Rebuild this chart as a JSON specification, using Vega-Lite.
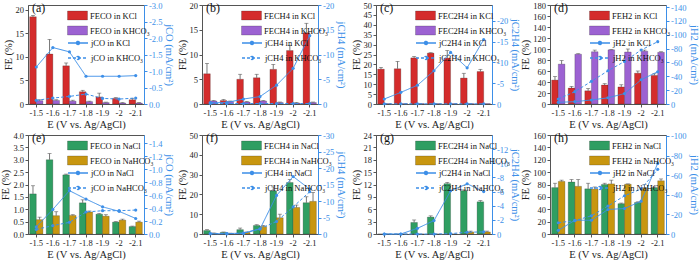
{
"$schema":"https://vega.github.io/schema/vega-lite/v6.json",
"padding":{"left":0,"top":0,"right":0,"bottom":0},
"background":"white",
"config":{
 "font":"Liberation Serif",
 "view":{"stroke":"#555","strokeWidth":1},
 "axis":{"labelFont":"Liberation Serif","titleFont":"Liberation Serif","labelFontSize":8.5,"titleFontSize":10.5,"titleFontWeight":"normal","domainColor":"#555","tickColor":"#555","labelColor":"#222","titleColor":"#222","grid":false,"tickSize":3,"labelPadding":1.5,"titlePadding":2,"labelOverlap":false},
 "legend":{"labelFont":"Liberation Serif","labelFontSize":8.5,"symbolSize":100,"labelOffset":7,"rowPadding":4,"padding":0,"labelLimit":200,"labelColor":"#111"},
 "title":{"anchor":"start","frame":"group","offset":0,"dy":18,"dx":4,"fontSize":12,"fontWeight":"normal","font":"Liberation Serif","color":"#111"},
 "bar":{"stroke":"#222","strokeWidth":0.4,"strokeOpacity":0.6}
},
"spacing":0,
"resolve":{"scale":{"color":"independent","strokeDash":"independent","xOffset":"independent"},"legend":{"color":"independent","strokeDash":"independent"}},
"vconcat":[
{"bounds":"flush","spacing":58,
 "resolve":{"scale":{"color":"independent","strokeDash":"independent","xOffset":"independent"},"legend":{"color":"independent","strokeDash":"independent"}},
 "hconcat":[
 {"width":116,"height":99,"title":{"text":"(a)"},
  "data":{"values":[
   {"E":"-1.5","s":"FECO in KCl","l":"jCO in KCl","FE":18.5,"hi":18.8,"j":-1.12},
   {"E":"-1.6","s":"FECO in KCl","l":"jCO in KCl","FE":10.6,"hi":13.7,"j":-1.71},
   {"E":"-1.7","s":"FECO in KCl","l":"jCO in KCl","FE":8.1,"hi":8.7,"j":-1.58},
   {"E":"-1.8","s":"FECO in KCl","l":"jCO in KCl","FE":2.6,"hi":2.9,"j":-0.84},
   {"E":"-1.9","s":"FECO in KCl","l":"jCO in KCl","FE":1.5,"hi":2.3,"j":-0.84},
   {"E":"-2","s":"FECO in KCl","l":"jCO in KCl","FE":1.2,"hi":1.35,"j":-0.84},
   {"E":"-2.1","s":"FECO in KCl","l":"jCO in KCl","FE":0.9,"hi":1.2,"j":-0.86},
   {"E":"-1.5","s":"FECO in KHCO₃","l":"jCO in KHCO₃","FE":0.7,"hi":0.9,"j":-0.11},
   {"E":"-1.6","s":"FECO in KHCO₃","l":"jCO in KHCO₃","FE":0.75,"hi":0.9,"j":-0.18},
   {"E":"-1.7","s":"FECO in KHCO₃","l":"jCO in KHCO₃","FE":0.6,"hi":0.8,"j":-0.23},
   {"E":"-1.8","s":"FECO in KHCO₃","l":"jCO in KHCO₃","FE":0.5,"hi":0.6,"j":-0.30},
   {"E":"-1.9","s":"FECO in KHCO₃","l":"jCO in KHCO₃","FE":0.3,"hi":0.4,"j":-0.17},
   {"E":"-2","s":"FECO in KHCO₃","l":"jCO in KHCO₃","FE":0.2,"hi":0.3,"j":-0.15},
   {"E":"-2.1","s":"FECO in KHCO₃","l":"jCO in KHCO₃","FE":0.2,"hi":0.3,"j":-0.18}]},
  "layer":[
   {"layer":[
    {"mark":{"type":"bar"},"encoding":{
      "x":{"field":"E","type":"nominal","sort":["-1.5","-1.6","-1.7","-1.8","-1.9","-2","-2.1"],"scale":{"type":"band","paddingInner":0.2,"paddingOuter":0.1},"axis":{"title":"E (V vs. Ag/AgCl)","labelAngle":0}},
      "xOffset":{"field":"s","type":"nominal","sort":["FECO in KCl","FECO in KHCO₃"],"scale":{"type":"band"}},
      "y":{"field":"FE","type":"quantitative","title":"FE (%)","scale":{"domain":[0,21],"nice":false},"axis":{"values":[0,5,10,15,20],"format":"d","labelOverlap":false}},
      "color":{"field":"s","type":"nominal","scale":{"domain":["FECO in KCl","FECO in KHCO₃"],"range":["#d42c2c","#9c62d2"]},"legend":{"title":null,"orient":"none","legendX":44,"legendY":5,"symbolType":"M-2,-0.9H2V0.9H-2Z"}}}},
    {"transform":[{"filter":"datum.hi > datum.FE"}],"mark":{"type":"rule","color":"#555","strokeWidth":0.8},"encoding":{
      "x":{"field":"E","type":"nominal","sort":["-1.5","-1.6","-1.7","-1.8","-1.9","-2","-2.1"],"scale":{"type":"band"}},
      "xOffset":{"field":"s","type":"nominal","sort":["FECO in KCl","FECO in KHCO₃"],"scale":{"type":"band"}},
      "y":{"field":"FE","type":"quantitative","title":"FE (%)","axis":{"values":[0,5,10,15,20],"format":"d","labelOverlap":false}},"y2":{"field":"hi"}}},
    {"transform":[{"filter":"datum.hi > datum.FE"}],"mark":{"type":"tick","color":"#555","thickness":0.8,"size":4},"encoding":{
      "x":{"field":"E","type":"nominal","sort":["-1.5","-1.6","-1.7","-1.8","-1.9","-2","-2.1"],"scale":{"type":"band"}},
      "xOffset":{"field":"s","type":"nominal","sort":["FECO in KCl","FECO in KHCO₃"],"scale":{"type":"band"}},
      "y":{"field":"hi","type":"quantitative","title":"FE (%)","axis":{"values":[0,5,10,15,20],"format":"d","labelOverlap":false}}}}]},
   {"mark":{"type":"line","color":"#3d8fe8","strokeWidth":1,"point":{"filled":true,"size":10,"color":"#3d8fe8"}},"encoding":{
      "x":{"field":"E","type":"nominal","sort":["-1.5","-1.6","-1.7","-1.8","-1.9","-2","-2.1"],"scale":{"type":"band"}},
      "y":{"field":"j","type":"quantitative","scale":{"domain":[-3,0],"reverse":true,"nice":false},"axis":{"orient":"right","title":"jCO (mA/cm²)","values":[0,-0.5,-1,-1.5,-2,-2.5,-3],"labelOverlap":false,"labelExpr":"datum.value == 0 ? '0.0' : '-' + format(-datum.value, '.1f')","domainColor":"#3d8fe8","tickColor":"#3d8fe8","labelColor":"#3d8fe8","titleColor":"#3d8fe8"}},
      "strokeDash":{"field":"l","type":"nominal","scale":{"domain":["jCO in KCl","jCO in KHCO₃"],"range":[[1,0],[3,2]]},"legend":{"title":null,"orient":"none","legendX":44,"legendY":32,"symbolType":"M-2,0H2M0.3,0A0.3,0.3 0 1,1 -0.3,0A0.3,0.3 0 1,1 0.3,0","encode":{"symbols":{"update":{"stroke":{"value":"#3d8fe8"},"fill":{"value":"#3d8fe8"},"strokeWidth":{"value":1},"opacity":{"value":1}}}}}}}}],
  "resolve":{"scale":{"y":"independent"}}},

 {"width":116,"height":99,"title":{"text":"(b)"},
  "data":{"values":[
   {"E":"-1.5","s":"FECH4 in KCl","l":"jCH4 in KCl","FE":6.1,"hi":8.2,"j":-0.3},
   {"E":"-1.6","s":"FECH4 in KCl","l":"jCH4 in KCl","FE":0.7,"hi":0.9,"j":-0.3},
   {"E":"-1.7","s":"FECH4 in KCl","l":"jCH4 in KCl","FE":5.0,"hi":6.0,"j":-1.0},
   {"E":"-1.8","s":"FECH4 in KCl","l":"jCH4 in KCl","FE":5.3,"hi":6.0,"j":-1.5},
   {"E":"-1.9","s":"FECH4 in KCl","l":"jCH4 in KCl","FE":7.0,"hi":8.0,"j":-3.8},
   {"E":"-2","s":"FECH4 in KCl","l":"jCH4 in KCl","FE":10.8,"hi":11.8,"j":-7.2},
   {"E":"-2.1","s":"FECH4 in KCl","l":"jCH4 in KCl","FE":14.4,"hi":16.3,"j":-13.8},
   {"E":"-1.5","s":"FECH4 in KHCO₃","l":"jCH4 in KHCO₃","FE":0.6,"hi":0.7,"j":-0.1},
   {"E":"-1.6","s":"FECH4 in KHCO₃","l":"jCH4 in KHCO₃","FE":0.5,"hi":0.6,"j":-0.1},
   {"E":"-1.7","s":"FECH4 in KHCO₃","l":"jCH4 in KHCO₃","FE":0.4,"hi":0.5,"j":-0.1},
   {"E":"-1.8","s":"FECH4 in KHCO₃","l":"jCH4 in KHCO₃","FE":0.6,"hi":0.7,"j":-0.1},
   {"E":"-1.9","s":"FECH4 in KHCO₃","l":"jCH4 in KHCO₃","FE":0.3,"hi":0.4,"j":-0.1},
   {"E":"-2","s":"FECH4 in KHCO₃","l":"jCH4 in KHCO₃","FE":0.2,"hi":0.3,"j":-0.1},
   {"E":"-2.1","s":"FECH4 in KHCO₃","l":"jCH4 in KHCO₃","FE":0.3,"hi":0.4,"j":-0.1}]},
  "layer":[
   {"layer":[
    {"mark":{"type":"bar"},"encoding":{
      "x":{"field":"E","type":"nominal","sort":["-1.5","-1.6","-1.7","-1.8","-1.9","-2","-2.1"],"scale":{"type":"band","paddingInner":0.2,"paddingOuter":0.1},"axis":{"title":"E (V vs. Ag/AgCl)","labelAngle":0}},
      "xOffset":{"field":"s","type":"nominal","sort":["FECH4 in KCl","FECH4 in KHCO₃"],"scale":{"type":"band"}},
      "y":{"field":"FE","type":"quantitative","title":"FE (%)","scale":{"domain":[0,20],"nice":false},"axis":{"values":[0,5,10,15,20],"format":"d","labelOverlap":false}},
      "color":{"field":"s","type":"nominal","scale":{"domain":["FECH4 in KCl","FECH4 in KHCO₃"],"range":["#d42c2c","#9c62d2"]},"legend":{"title":null,"orient":"none","legendX":44,"legendY":5,"symbolType":"M-2,-0.9H2V0.9H-2Z"}}}},
    {"transform":[{"filter":"datum.hi > datum.FE"}],"mark":{"type":"rule","color":"#555","strokeWidth":0.8},"encoding":{
      "x":{"field":"E","type":"nominal","sort":["-1.5","-1.6","-1.7","-1.8","-1.9","-2","-2.1"],"scale":{"type":"band"}},
      "xOffset":{"field":"s","type":"nominal","sort":["FECH4 in KCl","FECH4 in KHCO₃"],"scale":{"type":"band"}},
      "y":{"field":"FE","type":"quantitative","title":"FE (%)","axis":{"values":[0,5,10,15,20],"format":"d","labelOverlap":false}},"y2":{"field":"hi"}}},
    {"transform":[{"filter":"datum.hi > datum.FE"}],"mark":{"type":"tick","color":"#555","thickness":0.8,"size":4},"encoding":{
      "x":{"field":"E","type":"nominal","sort":["-1.5","-1.6","-1.7","-1.8","-1.9","-2","-2.1"],"scale":{"type":"band"}},
      "xOffset":{"field":"s","type":"nominal","sort":["FECH4 in KCl","FECH4 in KHCO₃"],"scale":{"type":"band"}},
      "y":{"field":"hi","type":"quantitative","title":"FE (%)","axis":{"values":[0,5,10,15,20],"format":"d","labelOverlap":false}}}}]},
   {"mark":{"type":"line","color":"#3d8fe8","strokeWidth":1,"point":{"filled":true,"size":10,"color":"#3d8fe8"}},"encoding":{
      "x":{"field":"E","type":"nominal","sort":["-1.5","-1.6","-1.7","-1.8","-1.9","-2","-2.1"],"scale":{"type":"band"}},
      "y":{"field":"j","type":"quantitative","scale":{"domain":[-20,0],"reverse":true,"nice":false},"axis":{"orient":"right","title":"jCH4 (mA/cm²)","values":[0,-5,-10,-15,-20],"labelOverlap":false,"labelExpr":"datum.value == 0 ? '0' : '-' + format(-datum.value, 'd')","domainColor":"#3d8fe8","tickColor":"#3d8fe8","labelColor":"#3d8fe8","titleColor":"#3d8fe8"}},
      "strokeDash":{"field":"l","type":"nominal","scale":{"domain":["jCH4 in KCl","jCH4 in KHCO₃"],"range":[[1,0],[3,2]]},"legend":{"title":null,"orient":"none","legendX":44,"legendY":32,"symbolType":"M-2,0H2M0.3,0A0.3,0.3 0 1,1 -0.3,0A0.3,0.3 0 1,1 0.3,0","encode":{"symbols":{"update":{"stroke":{"value":"#3d8fe8"},"fill":{"value":"#3d8fe8"},"strokeWidth":{"value":1},"opacity":{"value":1}}}}}}}}],
  "resolve":{"scale":{"y":"independent"}}},

 {"width":116,"height":99,"title":{"text":"(c)"},
  "data":{"values":[
   {"E":"-1.5","s":"FEC2H4 in KCl","l":"jC2H4 in KCl","FE":17.6,"hi":18.5,"j":-1.2},
   {"E":"-1.6","s":"FEC2H4 in KCl","l":"jC2H4 in KCl","FE":17.8,"hi":21.5,"j":-2.8},
   {"E":"-1.7","s":"FEC2H4 in KCl","l":"jC2H4 in KCl","FE":23.3,"hi":24.0,"j":-4.5},
   {"E":"-1.8","s":"FEC2H4 in KCl","l":"jC2H4 in KCl","FE":25.7,"hi":25.9,"j":-8.0},
   {"E":"-1.9","s":"FEC2H4 in KCl","l":"jC2H4 in KCl","FE":23.2,"hi":27.0,"j":-12.4},
   {"E":"-2","s":"FEC2H4 in KCl","l":"jC2H4 in KCl","FE":13.1,"hi":15.5,"j":-8.7},
   {"E":"-2.1","s":"FEC2H4 in KCl","l":"jC2H4 in KCl","FE":16.4,"hi":17.5,"j":-15.5},
   {"E":"-1.5","s":"FEC2H4 in KHCO₃","l":"jC2H4 in KHCO₃","FE":0.2,"hi":0.2,"j":-0.05},
   {"E":"-1.6","s":"FEC2H4 in KHCO₃","l":"jC2H4 in KHCO₃","FE":0.2,"hi":0.2,"j":-0.05},
   {"E":"-1.7","s":"FEC2H4 in KHCO₃","l":"jC2H4 in KHCO₃","FE":0.2,"hi":0.2,"j":-0.05},
   {"E":"-1.8","s":"FEC2H4 in KHCO₃","l":"jC2H4 in KHCO₃","FE":0.2,"hi":0.2,"j":-0.05},
   {"E":"-1.9","s":"FEC2H4 in KHCO₃","l":"jC2H4 in KHCO₃","FE":0.2,"hi":0.2,"j":-0.05},
   {"E":"-2","s":"FEC2H4 in KHCO₃","l":"jC2H4 in KHCO₃","FE":0.2,"hi":0.2,"j":-0.05},
   {"E":"-2.1","s":"FEC2H4 in KHCO₃","l":"jC2H4 in KHCO₃","FE":0.2,"hi":0.2,"j":-0.05}]},
  "layer":[
   {"layer":[
    {"mark":{"type":"bar"},"encoding":{
      "x":{"field":"E","type":"nominal","sort":["-1.5","-1.6","-1.7","-1.8","-1.9","-2","-2.1"],"scale":{"type":"band","paddingInner":0.2,"paddingOuter":0.1},"axis":{"title":"E (V vs. Ag/AgCl)","labelAngle":0}},
      "xOffset":{"field":"s","type":"nominal","sort":["FEC2H4 in KCl","FEC2H4 in KHCO₃"],"scale":{"type":"band"}},
      "y":{"field":"FE","type":"quantitative","title":"FE (%)","scale":{"domain":[0,50],"nice":false},"axis":{"values":[0,5,10,15,20,25,30,35,40,45,50],"format":"d","labelOverlap":false}},
      "color":{"field":"s","type":"nominal","scale":{"domain":["FEC2H4 in KCl","FEC2H4 in KHCO₃"],"range":["#d42c2c","#9c62d2"]},"legend":{"title":null,"orient":"none","legendX":44,"legendY":5,"symbolType":"M-2,-0.9H2V0.9H-2Z"}}}},
    {"transform":[{"filter":"datum.hi > datum.FE"}],"mark":{"type":"rule","color":"#555","strokeWidth":0.8},"encoding":{
      "x":{"field":"E","type":"nominal","sort":["-1.5","-1.6","-1.7","-1.8","-1.9","-2","-2.1"],"scale":{"type":"band"}},
      "xOffset":{"field":"s","type":"nominal","sort":["FEC2H4 in KCl","FEC2H4 in KHCO₃"],"scale":{"type":"band"}},
      "y":{"field":"FE","type":"quantitative","title":"FE (%)","axis":{"values":[0,5,10,15,20,25,30,35,40,45,50],"format":"d","labelOverlap":false}},"y2":{"field":"hi"}}},
    {"transform":[{"filter":"datum.hi > datum.FE"}],"mark":{"type":"tick","color":"#555","thickness":0.8,"size":4},"encoding":{
      "x":{"field":"E","type":"nominal","sort":["-1.5","-1.6","-1.7","-1.8","-1.9","-2","-2.1"],"scale":{"type":"band"}},
      "xOffset":{"field":"s","type":"nominal","sort":["FEC2H4 in KCl","FEC2H4 in KHCO₃"],"scale":{"type":"band"}},
      "y":{"field":"hi","type":"quantitative","title":"FE (%)","axis":{"values":[0,5,10,15,20,25,30,35,40,45,50],"format":"d","labelOverlap":false}}}}]},
   {"mark":{"type":"line","color":"#3d8fe8","strokeWidth":1,"point":{"filled":true,"size":10,"color":"#3d8fe8"}},"encoding":{
      "x":{"field":"E","type":"nominal","sort":["-1.5","-1.6","-1.7","-1.8","-1.9","-2","-2.1"],"scale":{"type":"band"}},
      "y":{"field":"j","type":"quantitative","scale":{"domain":[-23.8,0],"reverse":true,"nice":false},"axis":{"orient":"right","title":"jC2H4 (mA/cm²)","values":[0,-5,-10,-15,-20],"labelOverlap":false,"labelExpr":"datum.value == 0 ? '0' : '-' + format(-datum.value, 'd')","domainColor":"#3d8fe8","tickColor":"#3d8fe8","labelColor":"#3d8fe8","titleColor":"#3d8fe8"}},
      "strokeDash":{"field":"l","type":"nominal","scale":{"domain":["jC2H4 in KCl","jC2H4 in KHCO₃"],"range":[[1,0],[3,2]]},"legend":{"title":null,"orient":"none","legendX":44,"legendY":32,"symbolType":"M-2,0H2M0.3,0A0.3,0.3 0 1,1 -0.3,0A0.3,0.3 0 1,1 0.3,0","encode":{"symbols":{"update":{"stroke":{"value":"#3d8fe8"},"fill":{"value":"#3d8fe8"},"strokeWidth":{"value":1},"opacity":{"value":1}}}}}}}}],
  "resolve":{"scale":{"y":"independent"}}},

 {"width":116,"height":99,"title":{"text":"(d)"},
  "data":{"values":[
   {"E":"-1.5","s":"FEH2 in KCl","l":"jH2 in KCl","FE":43.5,"hi":50,"j":-2.4},
   {"E":"-1.6","s":"FEH2 in KCl","l":"jH2 in KCl","FE":29,"hi":32,"j":-3.4},
   {"E":"-1.7","s":"FEH2 in KCl","l":"jH2 in KCl","FE":24,"hi":28,"j":-5.8},
   {"E":"-1.8","s":"FEH2 in KCl","l":"jH2 in KCl","FE":34.5,"hi":37,"j":-9},
   {"E":"-1.9","s":"FEH2 in KCl","l":"jH2 in KCl","FE":31,"hi":35,"j":-15},
   {"E":"-2","s":"FEH2 in KCl","l":"jH2 in KCl","FE":56,"hi":60,"j":-35},
   {"E":"-2.1","s":"FEH2 in KCl","l":"jH2 in KCl","FE":52,"hi":55,"j":-46.6},
   {"E":"-1.5","s":"FEH2 in KHCO₃","l":"jH2 in KHCO₃","FE":72.5,"hi":79,"j":-7.2},
   {"E":"-1.6","s":"FEH2 in KHCO₃","l":"jH2 in KHCO₃","FE":90.5,"hi":91.5,"j":-17.8},
   {"E":"-1.7","s":"FEH2 in KHCO₃","l":"jH2 in KHCO₃","FE":95,"hi":98,"j":-32.7},
   {"E":"-1.8","s":"FEH2 in KHCO₃","l":"jH2 in KHCO₃","FE":98.5,"hi":99,"j":-48},
   {"E":"-1.9","s":"FEH2 in KHCO₃","l":"jH2 in KHCO₃","FE":94.5,"hi":100,"j":-61.5},
   {"E":"-2","s":"FEH2 in KHCO₃","l":"jH2 in KHCO₃","FE":96,"hi":98,"j":-78},
   {"E":"-2.1","s":"FEH2 in KHCO₃","l":"jH2 in KHCO₃","FE":94,"hi":95,"j":-90}]},
  "layer":[
   {"layer":[
    {"mark":{"type":"bar"},"encoding":{
      "x":{"field":"E","type":"nominal","sort":["-1.5","-1.6","-1.7","-1.8","-1.9","-2","-2.1"],"scale":{"type":"band","paddingInner":0.2,"paddingOuter":0.1},"axis":{"title":"E (V vs. Ag/AgCl)","labelAngle":0}},
      "xOffset":{"field":"s","type":"nominal","sort":["FEH2 in KCl","FEH2 in KHCO₃"],"scale":{"type":"band"}},
      "y":{"field":"FE","type":"quantitative","title":"FE (%)","scale":{"domain":[0,180],"nice":false},"axis":{"values":[0,20,40,60,80,100,120,140,160,180],"format":"d","labelOverlap":false}},
      "color":{"field":"s","type":"nominal","scale":{"domain":["FEH2 in KCl","FEH2 in KHCO₃"],"range":["#d42c2c","#9c62d2"]},"legend":{"title":null,"orient":"none","legendX":44,"legendY":5,"symbolType":"M-2,-0.9H2V0.9H-2Z"}}}},
    {"transform":[{"filter":"datum.hi > datum.FE"}],"mark":{"type":"rule","color":"#555","strokeWidth":0.8},"encoding":{
      "x":{"field":"E","type":"nominal","sort":["-1.5","-1.6","-1.7","-1.8","-1.9","-2","-2.1"],"scale":{"type":"band"}},
      "xOffset":{"field":"s","type":"nominal","sort":["FEH2 in KCl","FEH2 in KHCO₃"],"scale":{"type":"band"}},
      "y":{"field":"FE","type":"quantitative","title":"FE (%)","axis":{"values":[0,20,40,60,80,100,120,140,160,180],"format":"d","labelOverlap":false}},"y2":{"field":"hi"}}},
    {"transform":[{"filter":"datum.hi > datum.FE"}],"mark":{"type":"tick","color":"#555","thickness":0.8,"size":4},"encoding":{
      "x":{"field":"E","type":"nominal","sort":["-1.5","-1.6","-1.7","-1.8","-1.9","-2","-2.1"],"scale":{"type":"band"}},
      "xOffset":{"field":"s","type":"nominal","sort":["FEH2 in KCl","FEH2 in KHCO₃"],"scale":{"type":"band"}},
      "y":{"field":"hi","type":"quantitative","title":"FE (%)","axis":{"values":[0,20,40,60,80,100,120,140,160,180],"format":"d","labelOverlap":false}}}}]},
   {"mark":{"type":"line","color":"#3d8fe8","strokeWidth":1,"point":{"filled":true,"size":10,"color":"#3d8fe8"}},"encoding":{
      "x":{"field":"E","type":"nominal","sort":["-1.5","-1.6","-1.7","-1.8","-1.9","-2","-2.1"],"scale":{"type":"band"}},
      "y":{"field":"j","type":"quantitative","scale":{"domain":[-143,0],"reverse":true,"nice":false},"axis":{"orient":"right","title":"jH2 (mA/cm²)","values":[0,-20,-40,-60,-80,-100,-120,-140],"labelOverlap":false,"labelExpr":"datum.value == 0 ? '0' : '-' + format(-datum.value, 'd')","domainColor":"#3d8fe8","tickColor":"#3d8fe8","labelColor":"#3d8fe8","titleColor":"#3d8fe8"}},
      "strokeDash":{"field":"l","type":"nominal","scale":{"domain":["jH2 in KCl","jH2 in KHCO₃"],"range":[[1,0],[3,2]]},"legend":{"title":null,"orient":"none","legendX":44,"legendY":32,"symbolType":"M-2,0H2M0.3,0A0.3,0.3 0 1,1 -0.3,0A0.3,0.3 0 1,1 0.3,0","encode":{"symbols":{"update":{"stroke":{"value":"#3d8fe8"},"fill":{"value":"#3d8fe8"},"strokeWidth":{"value":1},"opacity":{"value":1}}}}}}}}],
  "resolve":{"scale":{"y":"independent"}}}
 ]},
{"bounds":"flush","spacing":58,
 "resolve":{"scale":{"color":"independent","strokeDash":"independent","xOffset":"independent"},"legend":{"color":"independent","strokeDash":"independent"}},
 "hconcat":[
 {"width":116,"height":99,"title":{"text":"(e)"},
  "data":{"values":[
   {"E":"-1.5","s":"FECO in NaCl","l":"jCO in NaCl","FE":1.62,"hi":1.95,"j":-0.11},
   {"E":"-1.6","s":"FECO in NaCl","l":"jCO in NaCl","FE":3.0,"hi":3.25,"j":-0.38},
   {"E":"-1.7","s":"FECO in NaCl","l":"jCO in NaCl","FE":2.39,"hi":2.42,"j":-0.67},
   {"E":"-1.8","s":"FECO in NaCl","l":"jCO in NaCl","FE":1.26,"hi":1.38,"j":-0.54},
   {"E":"-1.9","s":"FECO in NaCl","l":"jCO in NaCl","FE":0.8,"hi":0.83,"j":-0.42},
   {"E":"-2","s":"FECO in NaCl","l":"jCO in NaCl","FE":0.48,"hi":0.5,"j":-0.35},
   {"E":"-2.1","s":"FECO in NaCl","l":"jCO in NaCl","FE":0.3,"hi":0.32,"j":-0.24},
   {"E":"-1.5","s":"FECO in NaHCO₃","l":"jCO in NaHCO₃","FE":0.58,"hi":0.68,"j":-0.07},
   {"E":"-1.6","s":"FECO in NaHCO₃","l":"jCO in NaHCO₃","FE":0.74,"hi":0.9,"j":-0.13},
   {"E":"-1.7","s":"FECO in NaHCO₃","l":"jCO in NaHCO₃","FE":0.75,"hi":0.78,"j":-0.18},
   {"E":"-1.8","s":"FECO in NaHCO₃","l":"jCO in NaHCO₃","FE":0.89,"hi":0.93,"j":-0.34},
   {"E":"-1.9","s":"FECO in NaHCO₃","l":"jCO in NaHCO₃","FE":0.72,"hi":0.78,"j":-0.36},
   {"E":"-2","s":"FECO in NaHCO₃","l":"jCO in NaHCO₃","FE":0.56,"hi":0.6,"j":-0.36},
   {"E":"-2.1","s":"FECO in NaHCO₃","l":"jCO in NaHCO₃","FE":0.48,"hi":0.52,"j":-0.37}]},
  "layer":[
   {"layer":[
    {"mark":{"type":"bar"},"encoding":{
      "x":{"field":"E","type":"nominal","sort":["-1.5","-1.6","-1.7","-1.8","-1.9","-2","-2.1"],"scale":{"type":"band","paddingInner":0.2,"paddingOuter":0.1},"axis":{"title":"E (V vs. Ag/AgCl)","labelAngle":0}},
      "xOffset":{"field":"s","type":"nominal","sort":["FECO in NaCl","FECO in NaHCO₃"],"scale":{"type":"band"}},
      "y":{"field":"FE","type":"quantitative","title":"FE (%)","scale":{"domain":[0,4],"nice":false},"axis":{"values":[0,0.5,1,1.5,2,2.5,3,3.5,4],"format":".1f","labelOverlap":false}},
      "color":{"field":"s","type":"nominal","scale":{"domain":["FECO in NaCl","FECO in NaHCO₃"],"range":["#2f9e62","#c8960f"]},"legend":{"title":null,"orient":"none","legendX":44,"legendY":5,"symbolType":"M-2,-0.9H2V0.9H-2Z"}}}},
    {"transform":[{"filter":"datum.hi > datum.FE"}],"mark":{"type":"rule","color":"#555","strokeWidth":0.8},"encoding":{
      "x":{"field":"E","type":"nominal","sort":["-1.5","-1.6","-1.7","-1.8","-1.9","-2","-2.1"],"scale":{"type":"band"}},
      "xOffset":{"field":"s","type":"nominal","sort":["FECO in NaCl","FECO in NaHCO₃"],"scale":{"type":"band"}},
      "y":{"field":"FE","type":"quantitative","title":"FE (%)","axis":{"values":[0,0.5,1,1.5,2,2.5,3,3.5,4],"format":".1f","labelOverlap":false}},"y2":{"field":"hi"}}},
    {"transform":[{"filter":"datum.hi > datum.FE"}],"mark":{"type":"tick","color":"#555","thickness":0.8,"size":4},"encoding":{
      "x":{"field":"E","type":"nominal","sort":["-1.5","-1.6","-1.7","-1.8","-1.9","-2","-2.1"],"scale":{"type":"band"}},
      "xOffset":{"field":"s","type":"nominal","sort":["FECO in NaCl","FECO in NaHCO₃"],"scale":{"type":"band"}},
      "y":{"field":"hi","type":"quantitative","title":"FE (%)","axis":{"values":[0,0.5,1,1.5,2,2.5,3,3.5,4],"format":".1f","labelOverlap":false}}}}]},
   {"mark":{"type":"line","color":"#3d8fe8","strokeWidth":1,"point":{"filled":true,"size":10,"color":"#3d8fe8"}},"encoding":{
      "x":{"field":"E","type":"nominal","sort":["-1.5","-1.6","-1.7","-1.8","-1.9","-2","-2.1"],"scale":{"type":"band"}},
      "y":{"field":"j","type":"quantitative","scale":{"domain":[-1.53,0],"reverse":true,"nice":false},"axis":{"orient":"right","title":"jCO (mA/cm²)","values":[0,-0.2,-0.4,-0.6,-0.8,-1,-1.2,-1.4],"labelOverlap":false,"labelExpr":"datum.value == 0 ? '0.0' : '-' + format(-datum.value, '.1f')","domainColor":"#3d8fe8","tickColor":"#3d8fe8","labelColor":"#3d8fe8","titleColor":"#3d8fe8"}},
      "strokeDash":{"field":"l","type":"nominal","scale":{"domain":["jCO in NaCl","jCO in NaHCO₃"],"range":[[1,0],[3,2]]},"legend":{"title":null,"orient":"none","legendX":44,"legendY":32,"symbolType":"M-2,0H2M0.3,0A0.3,0.3 0 1,1 -0.3,0A0.3,0.3 0 1,1 0.3,0","encode":{"symbols":{"update":{"stroke":{"value":"#3d8fe8"},"fill":{"value":"#3d8fe8"},"strokeWidth":{"value":1},"opacity":{"value":1}}}}}}}}],
  "resolve":{"scale":{"y":"independent"}}},

 {"width":116,"height":99,"title":{"text":"(f)"},
  "data":{"values":[
   {"E":"-1.5","s":"FECH4 in NaCl","l":"jCH4 in NaCl","FE":1.8,"hi":2.2,"j":-0.1},
   {"E":"-1.6","s":"FECH4 in NaCl","l":"jCH4 in NaCl","FE":0.8,"hi":1.0,"j":-0.1},
   {"E":"-1.7","s":"FECH4 in NaCl","l":"jCH4 in NaCl","FE":2.2,"hi":3.0,"j":-0.3},
   {"E":"-1.8","s":"FECH4 in NaCl","l":"jCH4 in NaCl","FE":4.3,"hi":4.7,"j":-1.5},
   {"E":"-1.9","s":"FECH4 in NaCl","l":"jCH4 in NaCl","FE":21.8,"hi":23.8,"j":-11.7},
   {"E":"-2","s":"FECH4 in NaCl","l":"jCH4 in NaCl","FE":26.0,"hi":27.5,"j":-17.4},
   {"E":"-2.1","s":"FECH4 in NaCl","l":"jCH4 in NaCl","FE":15.8,"hi":18.8,"j":-13.6},
   {"E":"-1.5","s":"FECH4 in NaHCO₃","l":"jCH4 in NaHCO₃","FE":0.4,"hi":0.5,"j":-0.1},
   {"E":"-1.6","s":"FECH4 in NaHCO₃","l":"jCH4 in NaHCO₃","FE":0.3,"hi":0.4,"j":-0.1},
   {"E":"-1.7","s":"FECH4 in NaHCO₃","l":"jCH4 in NaHCO₃","FE":0.8,"hi":1.0,"j":-0.2},
   {"E":"-1.8","s":"FECH4 in NaHCO₃","l":"jCH4 in NaHCO₃","FE":3.8,"hi":4.3,"j":-1.6},
   {"E":"-1.9","s":"FECH4 in NaHCO₃","l":"jCH4 in NaHCO₃","FE":8.2,"hi":10.0,"j":-3.8},
   {"E":"-2","s":"FECH4 in NaHCO₃","l":"jCH4 in NaHCO₃","FE":13.4,"hi":14.6,"j":-8.2},
   {"E":"-2.1","s":"FECH4 in NaHCO₃","l":"jCH4 in NaHCO₃","FE":16.5,"hi":21.0,"j":-12.8}]},
  "layer":[
   {"layer":[
    {"mark":{"type":"bar"},"encoding":{
      "x":{"field":"E","type":"nominal","sort":["-1.5","-1.6","-1.7","-1.8","-1.9","-2","-2.1"],"scale":{"type":"band","paddingInner":0.2,"paddingOuter":0.1},"axis":{"title":"E (V vs. Ag/AgCl)","labelAngle":0}},
      "xOffset":{"field":"s","type":"nominal","sort":["FECH4 in NaCl","FECH4 in NaHCO₃"],"scale":{"type":"band"}},
      "y":{"field":"FE","type":"quantitative","title":"FE (%)","scale":{"domain":[0,50],"nice":false},"axis":{"values":[0,10,20,30,40,50],"format":"d","labelOverlap":false}},
      "color":{"field":"s","type":"nominal","scale":{"domain":["FECH4 in NaCl","FECH4 in NaHCO₃"],"range":["#2f9e62","#c8960f"]},"legend":{"title":null,"orient":"none","legendX":44,"legendY":5,"symbolType":"M-2,-0.9H2V0.9H-2Z"}}}},
    {"transform":[{"filter":"datum.hi > datum.FE"}],"mark":{"type":"rule","color":"#555","strokeWidth":0.8},"encoding":{
      "x":{"field":"E","type":"nominal","sort":["-1.5","-1.6","-1.7","-1.8","-1.9","-2","-2.1"],"scale":{"type":"band"}},
      "xOffset":{"field":"s","type":"nominal","sort":["FECH4 in NaCl","FECH4 in NaHCO₃"],"scale":{"type":"band"}},
      "y":{"field":"FE","type":"quantitative","title":"FE (%)","axis":{"values":[0,10,20,30,40,50],"format":"d","labelOverlap":false}},"y2":{"field":"hi"}}},
    {"transform":[{"filter":"datum.hi > datum.FE"}],"mark":{"type":"tick","color":"#555","thickness":0.8,"size":4},"encoding":{
      "x":{"field":"E","type":"nominal","sort":["-1.5","-1.6","-1.7","-1.8","-1.9","-2","-2.1"],"scale":{"type":"band"}},
      "xOffset":{"field":"s","type":"nominal","sort":["FECH4 in NaCl","FECH4 in NaHCO₃"],"scale":{"type":"band"}},
      "y":{"field":"hi","type":"quantitative","title":"FE (%)","axis":{"values":[0,10,20,30,40,50],"format":"d","labelOverlap":false}}}}]},
   {"mark":{"type":"line","color":"#3d8fe8","strokeWidth":1,"point":{"filled":true,"size":10,"color":"#3d8fe8"}},"encoding":{
      "x":{"field":"E","type":"nominal","sort":["-1.5","-1.6","-1.7","-1.8","-1.9","-2","-2.1"],"scale":{"type":"band"}},
      "y":{"field":"j","type":"quantitative","scale":{"domain":[-30,0],"reverse":true,"nice":false},"axis":{"orient":"right","title":"jCH4 (mA/cm²)","values":[0,-5,-10,-15,-20,-25,-30],"labelOverlap":false,"labelExpr":"datum.value == 0 ? '0' : '-' + format(-datum.value, 'd')","domainColor":"#3d8fe8","tickColor":"#3d8fe8","labelColor":"#3d8fe8","titleColor":"#3d8fe8"}},
      "strokeDash":{"field":"l","type":"nominal","scale":{"domain":["jCH4 in NaCl","jCH4 in NaHCO₃"],"range":[[1,0],[3,2]]},"legend":{"title":null,"orient":"none","legendX":44,"legendY":32,"symbolType":"M-2,0H2M0.3,0A0.3,0.3 0 1,1 -0.3,0A0.3,0.3 0 1,1 0.3,0","encode":{"symbols":{"update":{"stroke":{"value":"#3d8fe8"},"fill":{"value":"#3d8fe8"},"strokeWidth":{"value":1},"opacity":{"value":1}}}}}}}}],
  "resolve":{"scale":{"y":"independent"}}},

 {"width":116,"height":99,"title":{"text":"(g)"},
  "data":{"values":[
   {"E":"-1.5","s":"FEC2H4 in NaCl","l":"jC2H4 in NaCl","FE":0,"hi":0,"j":0},
   {"E":"-1.6","s":"FEC2H4 in NaCl","l":"jC2H4 in NaCl","FE":0,"hi":0,"j":0},
   {"E":"-1.7","s":"FEC2H4 in NaCl","l":"jC2H4 in NaCl","FE":2.8,"hi":3.4,"j":-0.8},
   {"E":"-1.8","s":"FEC2H4 in NaCl","l":"jC2H4 in NaCl","FE":4.1,"hi":4.4,"j":-1.9},
   {"E":"-1.9","s":"FEC2H4 in NaCl","l":"jC2H4 in NaCl","FE":12.2,"hi":12.5,"j":-6.1},
   {"E":"-2","s":"FEC2H4 in NaCl","l":"jC2H4 in NaCl","FE":10.5,"hi":10.7,"j":-7.1},
   {"E":"-2.1","s":"FEC2H4 in NaCl","l":"jC2H4 in NaCl","FE":7.8,"hi":8.1,"j":-6.0},
   {"E":"-1.5","s":"FEC2H4 in NaHCO₃","l":"jC2H4 in NaHCO₃","FE":0,"hi":0,"j":0},
   {"E":"-1.6","s":"FEC2H4 in NaHCO₃","l":"jC2H4 in NaHCO₃","FE":0,"hi":0,"j":0},
   {"E":"-1.7","s":"FEC2H4 in NaHCO₃","l":"jC2H4 in NaHCO₃","FE":0,"hi":0,"j":0},
   {"E":"-1.8","s":"FEC2H4 in NaHCO₃","l":"jC2H4 in NaHCO₃","FE":0,"hi":0,"j":0},
   {"E":"-1.9","s":"FEC2H4 in NaHCO₃","l":"jC2H4 in NaHCO₃","FE":0,"hi":0,"j":-0.05},
   {"E":"-2","s":"FEC2H4 in NaHCO₃","l":"jC2H4 in NaHCO₃","FE":0.5,"hi":0.7,"j":-0.25},
   {"E":"-2.1","s":"FEC2H4 in NaHCO₃","l":"jC2H4 in NaHCO₃","FE":0.5,"hi":0.7,"j":-0.3}]},
  "layer":[
   {"layer":[
    {"mark":{"type":"bar"},"encoding":{
      "x":{"field":"E","type":"nominal","sort":["-1.5","-1.6","-1.7","-1.8","-1.9","-2","-2.1"],"scale":{"type":"band","paddingInner":0.2,"paddingOuter":0.1},"axis":{"title":"E (V vs. Ag/AgCl)","labelAngle":0}},
      "xOffset":{"field":"s","type":"nominal","sort":["FEC2H4 in NaCl","FEC2H4 in NaHCO₃"],"scale":{"type":"band"}},
      "y":{"field":"FE","type":"quantitative","title":"FE (%)","scale":{"domain":[0,24],"nice":false},"axis":{"values":[0,3,6,9,12,15,18,21,24],"format":"d","labelOverlap":false}},
      "color":{"field":"s","type":"nominal","scale":{"domain":["FEC2H4 in NaCl","FEC2H4 in NaHCO₃"],"range":["#2f9e62","#c8960f"]},"legend":{"title":null,"orient":"none","legendX":44,"legendY":5,"symbolType":"M-2,-0.9H2V0.9H-2Z"}}}},
    {"transform":[{"filter":"datum.hi > datum.FE"}],"mark":{"type":"rule","color":"#555","strokeWidth":0.8},"encoding":{
      "x":{"field":"E","type":"nominal","sort":["-1.5","-1.6","-1.7","-1.8","-1.9","-2","-2.1"],"scale":{"type":"band"}},
      "xOffset":{"field":"s","type":"nominal","sort":["FEC2H4 in NaCl","FEC2H4 in NaHCO₃"],"scale":{"type":"band"}},
      "y":{"field":"FE","type":"quantitative","title":"FE (%)","axis":{"values":[0,3,6,9,12,15,18,21,24],"format":"d","labelOverlap":false}},"y2":{"field":"hi"}}},
    {"transform":[{"filter":"datum.hi > datum.FE"}],"mark":{"type":"tick","color":"#555","thickness":0.8,"size":4},"encoding":{
      "x":{"field":"E","type":"nominal","sort":["-1.5","-1.6","-1.7","-1.8","-1.9","-2","-2.1"],"scale":{"type":"band"}},
      "xOffset":{"field":"s","type":"nominal","sort":["FEC2H4 in NaCl","FEC2H4 in NaHCO₃"],"scale":{"type":"band"}},
      "y":{"field":"hi","type":"quantitative","title":"FE (%)","axis":{"values":[0,3,6,9,12,15,18,21,24],"format":"d","labelOverlap":false}}}}]},
   {"mark":{"type":"line","color":"#3d8fe8","strokeWidth":1,"point":{"filled":true,"size":10,"color":"#3d8fe8"}},"encoding":{
      "x":{"field":"E","type":"nominal","sort":["-1.5","-1.6","-1.7","-1.8","-1.9","-2","-2.1"],"scale":{"type":"band"}},
      "y":{"field":"j","type":"quantitative","scale":{"domain":[-14,0],"reverse":true,"nice":false},"axis":{"orient":"right","title":"jC2H4 (mA/cm²)","values":[0,-2,-4,-6,-8,-10,-12],"labelOverlap":false,"labelExpr":"datum.value == 0 ? '0' : '-' + format(-datum.value, 'd')","domainColor":"#3d8fe8","tickColor":"#3d8fe8","labelColor":"#3d8fe8","titleColor":"#3d8fe8"}},
      "strokeDash":{"field":"l","type":"nominal","scale":{"domain":["jC2H4 in NaCl","jC2H4 in NaHCO₃"],"range":[[1,0],[3,2]]},"legend":{"title":null,"orient":"none","legendX":44,"legendY":32,"symbolType":"M-2,0H2M0.3,0A0.3,0.3 0 1,1 -0.3,0A0.3,0.3 0 1,1 0.3,0","encode":{"symbols":{"update":{"stroke":{"value":"#3d8fe8"},"fill":{"value":"#3d8fe8"},"strokeWidth":{"value":1},"opacity":{"value":1}}}}}}}}],
  "resolve":{"scale":{"y":"independent"}}},

 {"width":116,"height":99,"title":{"text":"(h)"},
  "data":{"values":[
   {"E":"-1.5","s":"FEH2 in NaCl","l":"jH2 in NaCl","FE":75,"hi":82,"j":-3.7},
   {"E":"-1.6","s":"FEH2 in NaCl","l":"jH2 in NaCl","FE":84,"hi":88,"j":-14},
   {"E":"-1.7","s":"FEH2 in NaCl","l":"jH2 in NaCl","FE":73,"hi":82,"j":-14},
   {"E":"-1.8","s":"FEH2 in NaCl","l":"jH2 in NaCl","FE":80,"hi":82,"j":-25},
   {"E":"-1.9","s":"FEH2 in NaCl","l":"jH2 in NaCl","FE":49,"hi":50,"j":-26},
   {"E":"-2","s":"FEH2 in NaCl","l":"jH2 in NaCl","FE":51,"hi":52,"j":-33.5},
   {"E":"-2.1","s":"FEH2 in NaCl","l":"jH2 in NaCl","FE":75,"hi":76,"j":-72},
   {"E":"-1.5","s":"FEH2 in NaHCO₃","l":"jH2 in NaHCO₃","FE":85,"hi":87,"j":-11.5},
   {"E":"-1.6","s":"FEH2 in NaHCO₃","l":"jH2 in NaHCO₃","FE":77,"hi":88,"j":-13.6},
   {"E":"-1.7","s":"FEH2 in NaHCO₃","l":"jH2 in NaHCO₃","FE":72.5,"hi":76,"j":-18.6},
   {"E":"-1.8","s":"FEH2 in NaHCO₃","l":"jH2 in NaHCO₃","FE":81,"hi":87,"j":-28.5},
   {"E":"-1.9","s":"FEH2 in NaHCO₃","l":"jH2 in NaHCO₃","FE":80.5,"hi":81,"j":-39},
   {"E":"-2","s":"FEH2 in NaHCO₃","l":"jH2 in NaHCO₃","FE":74.5,"hi":80,"j":-46},
   {"E":"-2.1","s":"FEH2 in NaHCO₃","l":"jH2 in NaHCO₃","FE":86,"hi":89,"j":-66}]},
  "layer":[
   {"layer":[
    {"mark":{"type":"bar"},"encoding":{
      "x":{"field":"E","type":"nominal","sort":["-1.5","-1.6","-1.7","-1.8","-1.9","-2","-2.1"],"scale":{"type":"band","paddingInner":0.2,"paddingOuter":0.1},"axis":{"title":"E (V vs. Ag/AgCl)","labelAngle":0}},
      "xOffset":{"field":"s","type":"nominal","sort":["FEH2 in NaCl","FEH2 in NaHCO₃"],"scale":{"type":"band"}},
      "y":{"field":"FE","type":"quantitative","title":"FE (%)","scale":{"domain":[0,160],"nice":false},"axis":{"values":[0,20,40,60,80,100,120,140,160],"format":"d","labelOverlap":false}},
      "color":{"field":"s","type":"nominal","scale":{"domain":["FEH2 in NaCl","FEH2 in NaHCO₃"],"range":["#2f9e62","#c8960f"]},"legend":{"title":null,"orient":"none","legendX":44,"legendY":5,"symbolType":"M-2,-0.9H2V0.9H-2Z"}}}},
    {"transform":[{"filter":"datum.hi > datum.FE"}],"mark":{"type":"rule","color":"#555","strokeWidth":0.8},"encoding":{
      "x":{"field":"E","type":"nominal","sort":["-1.5","-1.6","-1.7","-1.8","-1.9","-2","-2.1"],"scale":{"type":"band"}},
      "xOffset":{"field":"s","type":"nominal","sort":["FEH2 in NaCl","FEH2 in NaHCO₃"],"scale":{"type":"band"}},
      "y":{"field":"FE","type":"quantitative","title":"FE (%)","axis":{"values":[0,20,40,60,80,100,120,140,160],"format":"d","labelOverlap":false}},"y2":{"field":"hi"}}},
    {"transform":[{"filter":"datum.hi > datum.FE"}],"mark":{"type":"tick","color":"#555","thickness":0.8,"size":4},"encoding":{
      "x":{"field":"E","type":"nominal","sort":["-1.5","-1.6","-1.7","-1.8","-1.9","-2","-2.1"],"scale":{"type":"band"}},
      "xOffset":{"field":"s","type":"nominal","sort":["FEH2 in NaCl","FEH2 in NaHCO₃"],"scale":{"type":"band"}},
      "y":{"field":"hi","type":"quantitative","title":"FE (%)","axis":{"values":[0,20,40,60,80,100,120,140,160],"format":"d","labelOverlap":false}}}}]},
   {"mark":{"type":"line","color":"#3d8fe8","strokeWidth":1,"point":{"filled":true,"size":10,"color":"#3d8fe8"}},"encoding":{
      "x":{"field":"E","type":"nominal","sort":["-1.5","-1.6","-1.7","-1.8","-1.9","-2","-2.1"],"scale":{"type":"band"}},
      "y":{"field":"j","type":"quantitative","scale":{"domain":[-101,0],"reverse":true,"nice":false},"axis":{"orient":"right","title":"jH2 (mA/cm²)","values":[0,-20,-40,-60,-80,-100],"labelOverlap":false,"labelExpr":"datum.value == 0 ? '0' : '-' + format(-datum.value, 'd')","domainColor":"#3d8fe8","tickColor":"#3d8fe8","labelColor":"#3d8fe8","titleColor":"#3d8fe8"}},
      "strokeDash":{"field":"l","type":"nominal","scale":{"domain":["jH2 in NaCl","jH2 in NaHCO₃"],"range":[[1,0],[3,2]]},"legend":{"title":null,"orient":"none","legendX":44,"legendY":32,"symbolType":"M-2,0H2M0.3,0A0.3,0.3 0 1,1 -0.3,0A0.3,0.3 0 1,1 0.3,0","encode":{"symbols":{"update":{"stroke":{"value":"#3d8fe8"},"fill":{"value":"#3d8fe8"},"strokeWidth":{"value":1},"opacity":{"value":1}}}}}}}}],
  "resolve":{"scale":{"y":"independent"}}}
 ]}
]}
